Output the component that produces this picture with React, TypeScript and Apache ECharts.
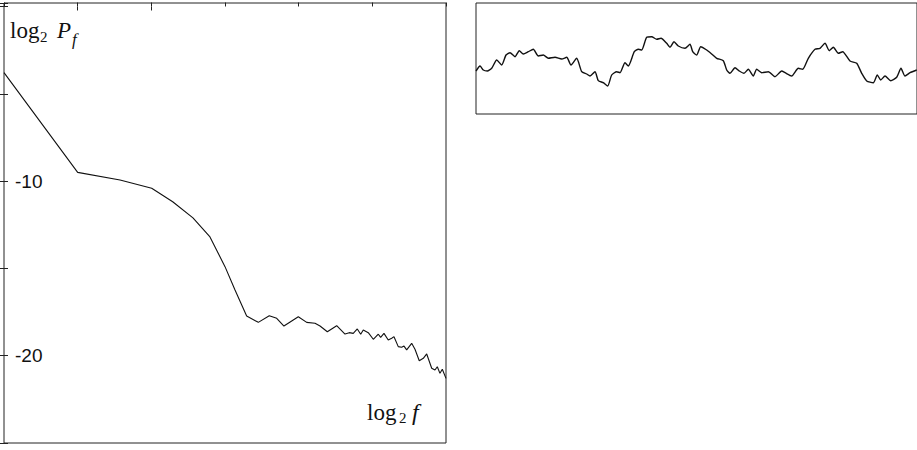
import React, { useEffect, useRef } from "react";
import * as echarts from "echarts";

// Left panel: log2 P_f versus log2 f (spectrum)
const spectrumX = [
  0, 1.0, 1.575, 2.005, 2.29, 2.565, 2.796, 3.0, 3.136, 3.294, 3.452, 3.601, 3.702, 3.8,
  3.995, 4.109, 4.222, 4.29, 4.389, 4.516, 4.629, 4.687, 4.741, 4.796, 4.842, 4.877,
  4.945, 5.013, 5.081, 5.113, 5.158, 5.216, 5.263, 5.294, 5.352, 5.398, 5.43, 5.466,
  5.534, 5.579, 5.637, 5.692, 5.738, 5.806, 5.85, 5.882, 5.918, 5.95, 6.0,
];
const spectrumY = [
  -3.79, -9.5, -9.94, -10.41, -11.18, -12.11, -13.2, -14.9, -16.24, -17.73, -18.09, -17.71,
  -17.86, -18.3, -17.77, -18.09, -18.14, -18.3, -18.63, -18.28, -18.76, -18.68, -18.72,
  -18.47, -18.77, -18.53, -18.68, -19.06, -18.77, -18.95, -18.72, -19.1, -19.0, -18.91,
  -19.48, -19.52, -19.45, -19.67, -19.29, -19.63, -20.29, -20.15, -19.9, -20.72, -20.82,
  -20.63, -21.01, -20.78, -21.3,
];
const leftYTicks = [-10, -20];

// Right panel: the time series (arbitrary units)
const traceT = [
  0, 4, 7.3, 11.3, 15.7, 20.7, 25.7, 30, 34, 39, 43.3, 47.3, 52.3, 57.3, 62.3, 67.3, 72.3,
  79, 85.7, 90.7, 95, 100.7, 105.7, 110.7, 114, 119, 122.3, 127.3, 131.7, 135.7, 140.7,
  144, 149, 152.3, 158.3, 162.3, 165.7, 170.7, 175.7, 180.7, 185, 190.7, 194, 198, 202.3,
  209, 214, 216.7, 220.7, 224.7, 230.7, 235.7, 240.7, 247.3, 250.7, 254, 259, 263.3, 268,
  272.3, 277.3, 280.7, 285.7, 292.3, 299, 305.7, 309, 315.7, 322.3, 326.7, 332.3, 339,
  344, 349, 353.3, 357.3, 362.3, 366.7, 374, 380.7, 385.7, 390.7, 397.3, 401.3, 404.7,
  409, 414.7, 420.7, 425, 429, 434, 440.7,
];
const traceV = [
  43, 48, 44, 43, 45.7, 54, 49, 59, 61.3, 57.3, 63.3, 60, 62.3, 64.7, 58, 59, 55.7,
  56.7, 55, 56.7, 49, 55.7, 42.3, 40, 38, 42.3, 33.3, 31.3, 28, 39, 42.3,
  41.3, 51.3, 48, 62.3, 64.7, 64, 76.7, 77.3, 74.7, 75.7, 70.7, 66.7, 72.3, 68,
  65.7, 69.7, 62.3, 59, 67.3, 64, 60, 55.7, 53.3, 44, 40.7, 46.3, 43, 40.7,
  44.7, 38, 44.7, 41.3, 42.3, 37.3, 43, 41.3, 38, 45.7, 44.7, 55.7, 64.7,
  65.7, 70.7, 63.3, 66.7, 60.7, 62.3, 53, 50.7, 40.7, 33, 31.3, 39, 34,
  38, 33.3, 36.7, 45.7, 38, 41.3, 44,
];

export default function App() {
  const ref = useRef<HTMLDivElement>(null);

  useEffect(() => {
    if (!ref.current) return;
    const chart = echarts.init(ref.current, undefined, { renderer: "svg" });

    const spectrum = spectrumX.map((x, i) => [x, spectrumY[i]]);
    const trace = traceT.map((t, i) => [t, traceV[i]]);

    const serif = "'Liberation Serif', 'DejaVu Serif', serif";
    const txt = (
      text: string,
      x: number,
      y: number,
      size: number,
      italic = false
    ) => ({
      type: "text",
      x,
      y,
      silent: true,
      style: {
        text,
        fill: "#111",
        font: `${italic ? "italic " : ""}${size}px ${serif}`,
        align: "left",
        verticalAlign: "middle",
      },
    });

    const tickStyle = { color: "#222", width: 1 };

    chart.setOption({
      animation: false,
      backgroundColor: "#ffffff",
      grid: [
        {
          left: 4,
          top: 3,
          width: 442,
          height: 440,
          show: true,
          borderColor: "#222",
          borderWidth: 1,
          backgroundColor: "transparent",
        },
        {
          left: 476,
          top: 3,
          width: 441,
          height: 111,
          show: true,
          borderColor: "#222",
          borderWidth: 1,
          backgroundColor: "transparent",
        },
      ],
      xAxis: [
        {
          gridIndex: 0,
          type: "value",
          min: 0,
          max: 6,
          interval: 1,
          position: "bottom",
          axisLine: { show: false },
          axisTick: { show: true, inside: true, length: 4, lineStyle: tickStyle },
          axisLabel: { show: false },
          splitLine: { show: false },
        },
        {
          gridIndex: 0,
          type: "value",
          min: 0,
          max: 6,
          interval: 1,
          position: "top",
          axisLine: { show: false },
          axisTick: {
            show: true,
            inside: true,
            length: 4,
            customValues: [1, 2],
            lineStyle: tickStyle,
          },
          axisLabel: { show: false },
          splitLine: { show: false },
        },
        {
          gridIndex: 1,
          type: "value",
          min: 0,
          max: 441,
          show: false,
        },
      ],
      yAxis: [
        {
          gridIndex: 0,
          type: "value",
          min: -25,
          max: 0.2,
          interval: 5,
          position: "left",
          axisLine: { show: false },
          axisTick: { show: true, inside: true, length: 4, lineStyle: tickStyle },
          axisLabel: {
            show: true,
            inside: true,
            margin: 11,
            color: "#111",
            fontSize: 19,
            fontFamily: "'Liberation Sans', Arial, sans-serif",
            formatter: (v: number) =>
              leftYTicks.indexOf(Math.round(v * 100) / 100) >= 0 ? String(v) : "",
          },
          splitLine: { show: false },
        },
        {
          gridIndex: 0,
          type: "value",
          min: -25,
          max: 0.2,
          interval: 5,
          position: "right",
          axisLine: { show: false },
          axisTick: { show: true, inside: true, length: 4, lineStyle: tickStyle },
          axisLabel: { show: false },
          splitLine: { show: false },
        },
        {
          gridIndex: 1,
          type: "value",
          min: 0,
          max: 111,
          show: false,
        },
      ],
      series: [
        {
          type: "line",
          xAxisIndex: 0,
          yAxisIndex: 0,
          data: spectrum,
          showSymbol: false,
          symbol: "none",
          lineStyle: { color: "#111", width: 1.1 },
        },
        {
          type: "line",
          xAxisIndex: 2,
          yAxisIndex: 2,
          data: trace,
          showSymbol: false,
          symbol: "none",
          smooth: 0.2,
          lineStyle: { color: "#111", width: 1.4 },
        },
      ],
      graphic: [
        txt("log", 10, 30, 23),
        txt("2", 40, 37, 15),
        txt("P", 57, 30, 23, true),
        txt("f", 72, 39, 17, true),
        txt("log", 367, 412, 23),
        txt("2", 399, 418, 15),
        txt("f", 412, 412, 24, true),
      ],
    });

    return () => chart.dispose();
  }, []);

  return (
    <div
      ref={ref}
      style={{ position: "fixed", left: 0, top: 0, width: 917, height: 450 }}
    />
  );
}
